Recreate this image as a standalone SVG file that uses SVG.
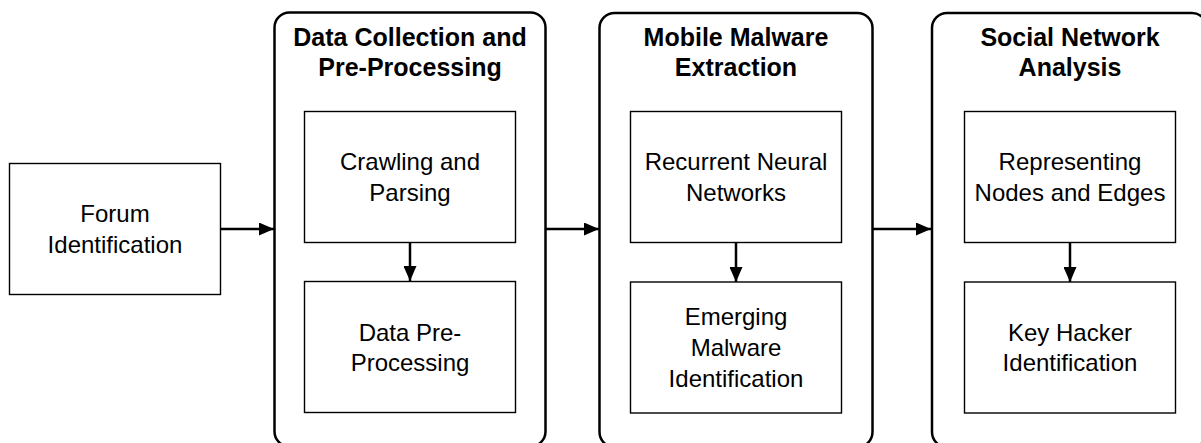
<svg xmlns="http://www.w3.org/2000/svg" width="1201" height="443" viewBox="0 0 1201 443">
<defs>
<marker id="ah" markerWidth="15" markerHeight="13" refX="15" refY="6.5" orient="auto" markerUnits="userSpaceOnUse">
<path d="M0,0 L15,6.5 L0,13 Z" fill="#000"/>
</marker>
</defs>
<style>
.cont{fill:#fff;stroke:#000;stroke-width:2.5}
.box{fill:#fff;stroke:#000;stroke-width:1.4}
.t{font-family:"Liberation Sans",Arial,sans-serif;font-size:24px;text-anchor:middle;fill:#000}
.h{font-family:"Liberation Sans",Arial,sans-serif;font-size:25px;font-weight:bold;text-anchor:middle;fill:#000}
.c{stroke:#000;stroke-width:2.5;fill:none;marker-end:url(#ah)}
</style>
<rect width="1201" height="443" fill="#fff"/>
<g id="forum">
<rect class="box" x="9.5" y="163.5" width="211" height="131"/>
<text class="t" x="115" y="222">Forum</text>
<text class="t" x="115" y="253">Identification</text>
</g>
<g id="stage1">
<rect class="cont" x="274.5" y="12.5" width="271" height="434" rx="15"/>
<text class="h" x="410" y="46">Data Collection and</text>
<text class="h" x="410" y="76">Pre-Processing</text>
</g>
<g id="crawl">
<rect class="box" x="304.5" y="111.5" width="211" height="131"/>
<text class="t" x="410" y="170">Crawling and</text>
<text class="t" x="410" y="201">Parsing</text>
</g>
<g id="preproc">
<rect class="box" x="304.5" y="281.5" width="211" height="131"/>
<text class="t" x="410" y="341">Data Pre-</text>
<text class="t" x="410" y="371">Processing</text>
</g>
<g id="stage2">
<rect class="cont" x="599.5" y="13" width="273" height="434" rx="15"/>
<text class="h" x="736" y="46">Mobile Malware</text>
<text class="h" x="736" y="76">Extraction</text>
</g>
<g id="rnn">
<rect class="box" x="630.5" y="111.5" width="211" height="131"/>
<text class="t" x="736" y="170">Recurrent Neural</text>
<text class="t" x="736" y="201">Networks</text>
</g>
<g id="emerging">
<rect class="box" x="630.5" y="282" width="211" height="131"/>
<text class="t" x="736" y="325">Emerging</text>
<text class="t" x="736" y="356">Malware</text>
<text class="t" x="736" y="387">Identification</text>
</g>
<g id="stage3">
<rect class="cont" x="932" y="13" width="275" height="434" rx="15"/>
<text class="h" x="1070" y="46">Social Network</text>
<text class="h" x="1070" y="76">Analysis</text>
</g>
<g id="repr">
<rect class="box" x="964.5" y="111.5" width="211" height="131"/>
<text class="t" x="1070" y="170">Representing</text>
<text class="t" x="1070" y="201">Nodes and Edges</text>
</g>
<g id="keyhacker">
<rect class="box" x="964.5" y="282" width="211" height="131"/>
<text class="t" x="1070" y="341">Key Hacker</text>
<text class="t" x="1070" y="371">Identification</text>
</g>
<g id="connectors">
<line class="c" x1="220.5" y1="229" x2="274" y2="229"/>
<line class="c" x1="546" y1="229" x2="599" y2="229"/>
<line class="c" x1="873" y1="229" x2="931" y2="229"/>
<line class="c" x1="410" y1="243" x2="410" y2="281"/>
<line class="c" x1="736" y1="243" x2="736" y2="282"/>
<line class="c" x1="1070" y1="243" x2="1070" y2="282"/>
</g>
</svg>
